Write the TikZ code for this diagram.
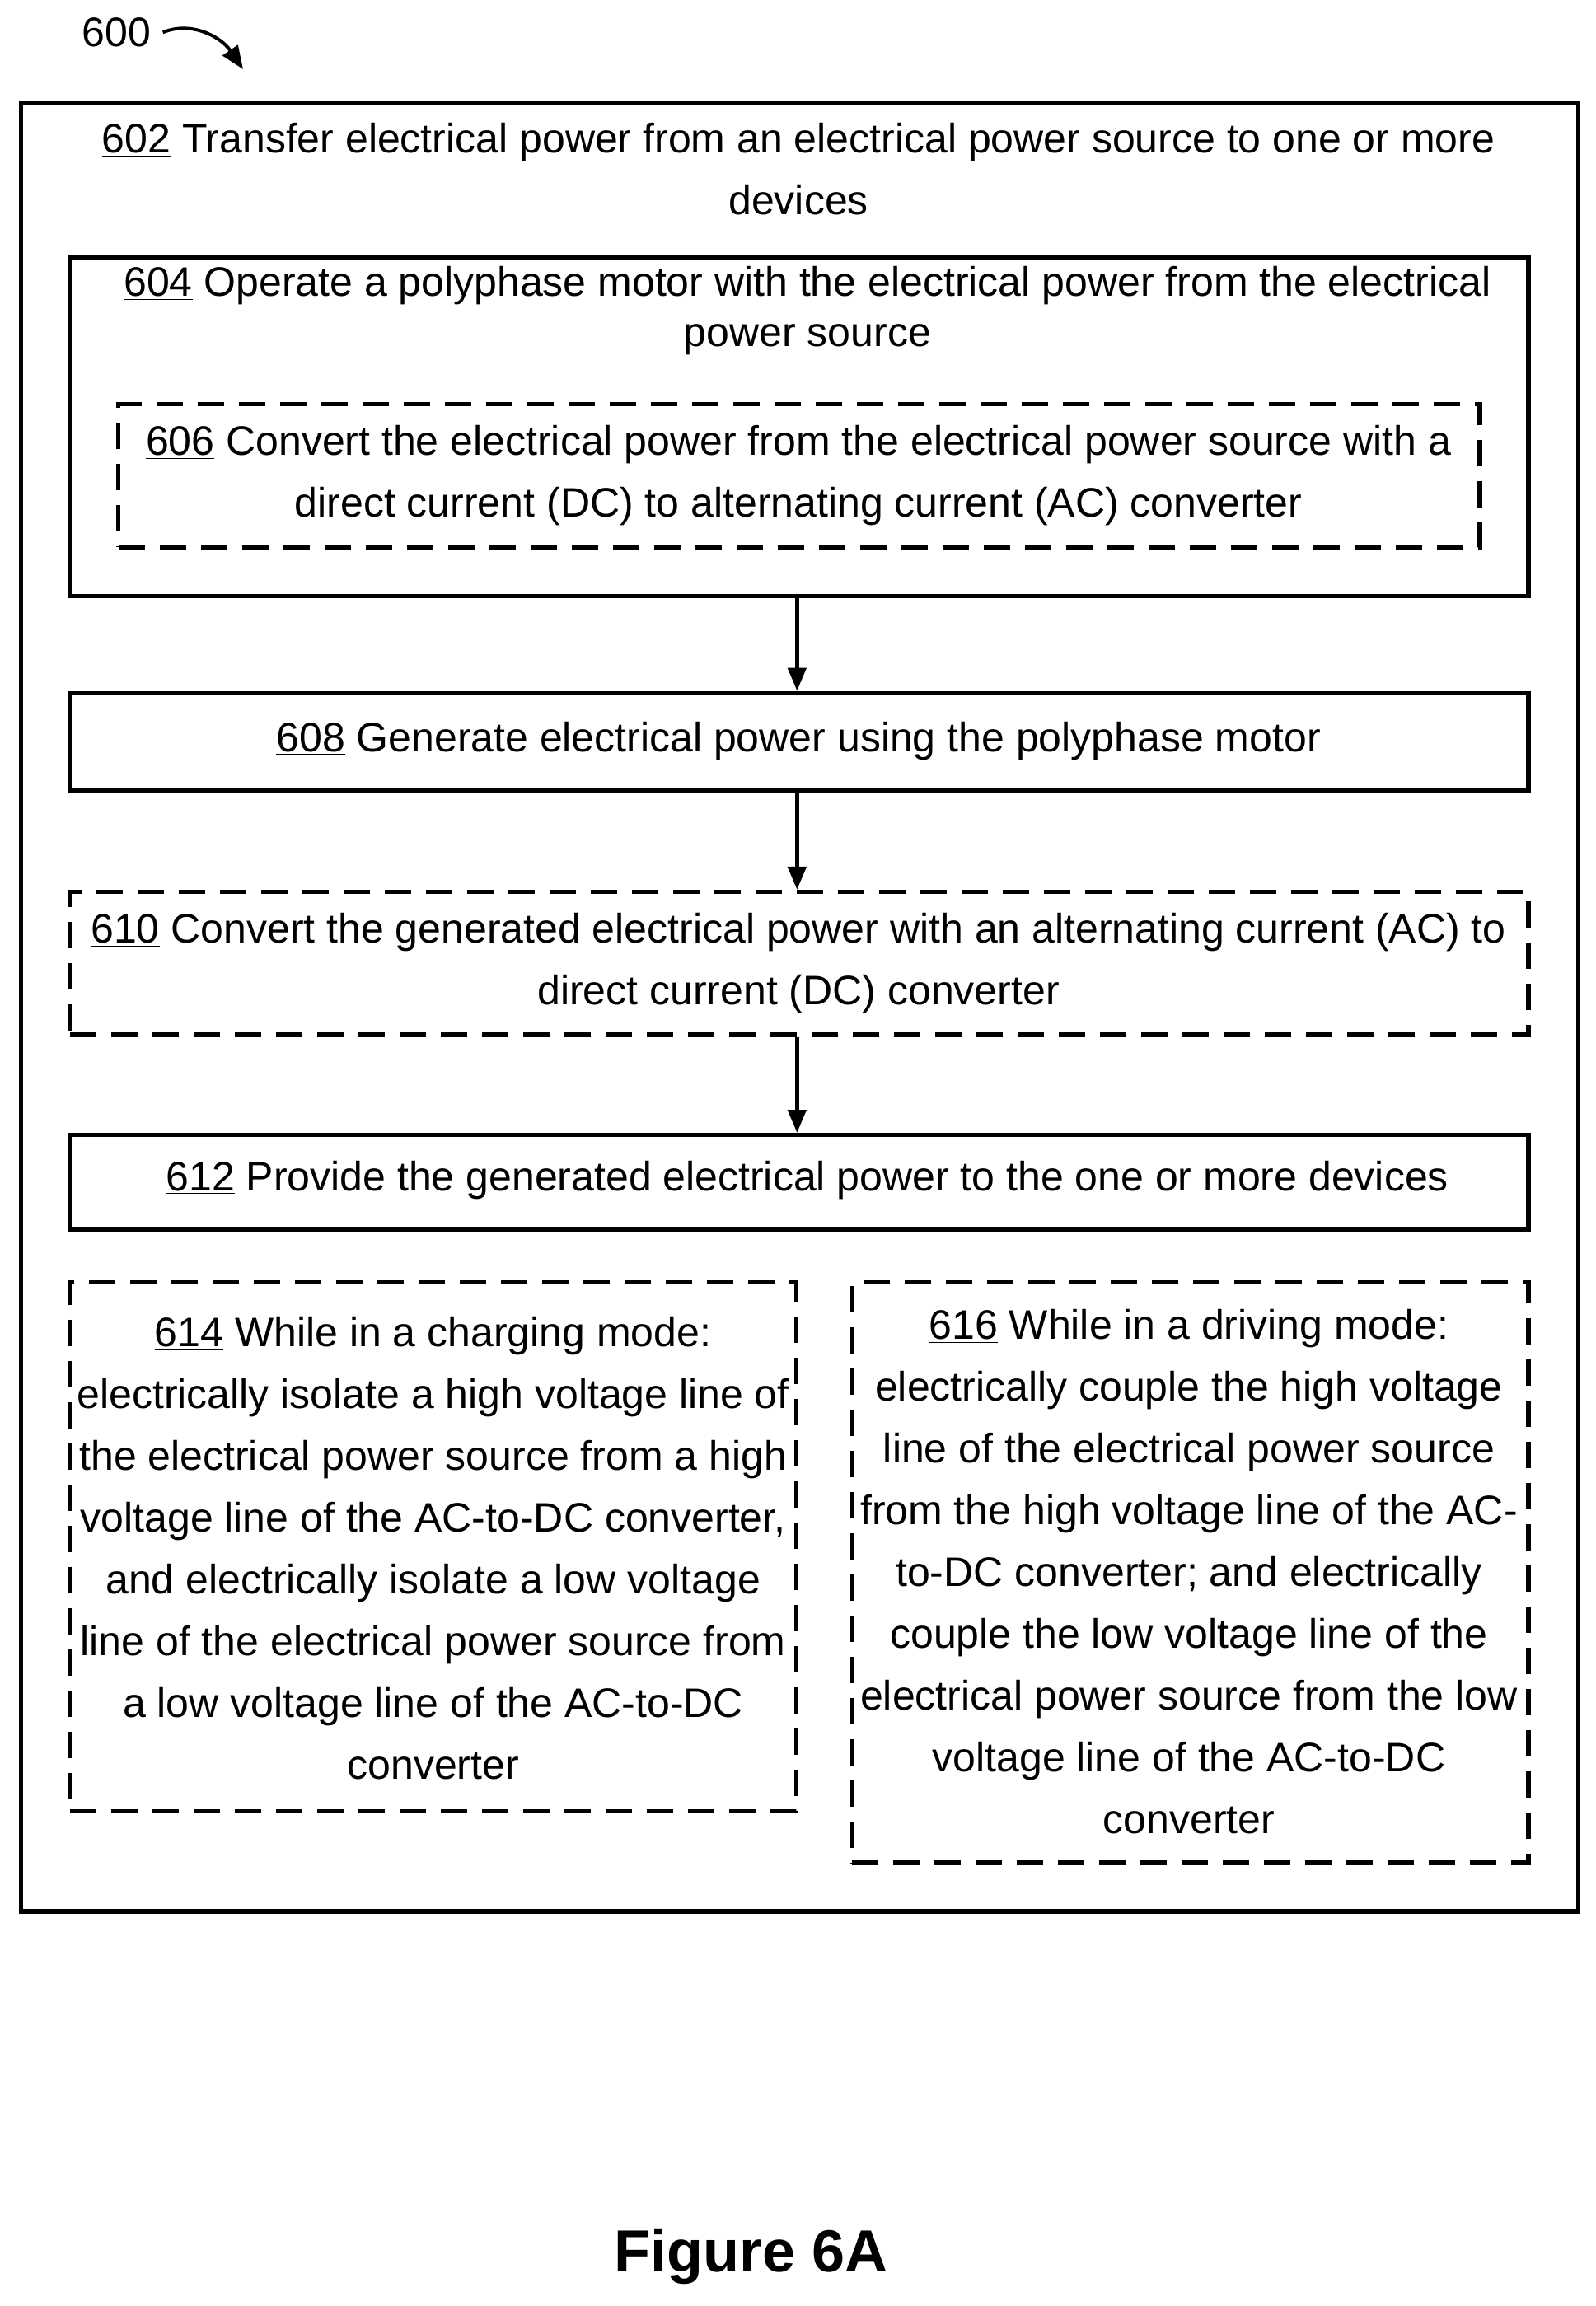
\documentclass[tikz,border=0pt]{standalone}
\usepackage{fontspec}
\setmainfont{Liberation Sans}
\usetikzlibrary{arrows.meta}
\begin{document}
\begin{tikzpicture}[x=0.894pt,y=-0.894pt,
  box/.style={draw,line width=2.6pt,inner sep=0,anchor=north west},
  dbox/.style={box,dash pattern=on 16pt off 9pt},
  txt/.style={align=center,font=\fontsize{25}{37.5}\selectfont,inner sep=0},
  arr/.style={-{Triangle[length=14pt,width=11pt]},line width=2.4pt}]
\useasboundingbox (0,0) rectangle (1083.3,1565.4);
\node[box,minimum width=1057*0.894pt,minimum height=1228*0.894pt] (outer) at (13,68) {};
\node[txt] (t602) at (542,115) {\underline{602} Transfer electrical power from an electrical power source to one or more\\devices};
\node[box,minimum width=990*0.894pt,minimum height=230*0.894pt] (b604) at (46,173) {};
\node[txt,font=\fontsize{25}{30.4}\selectfont] (t604) at (548,211) {\underline{604} Operate a polyphase motor with the electrical power from the electrical\\power source};
\node[dbox,minimum width=924*0.894pt,minimum height=97*0.894pt] (b606) at (79,273) {};
\node[txt] (t606) at (542,323) {\underline{606} Convert the electrical power from the electrical power source with a\\direct current (DC) to alternating current (AC) converter};
\node[box,minimum width=990*0.894pt,minimum height=66*0.894pt] (b608) at (46,469) {};
\node[txt] (t608) at (542,503) {\underline{608} Generate electrical power using the polyphase motor};
\node[dbox,minimum width=990*0.894pt,minimum height=97*0.894pt] (b610) at (46,604) {};
\node[txt] (t610) at (542,654) {\underline{610} Convert the generated electrical power with an alternating current (AC) to\\direct current (DC) converter};
\node[box,minimum width=990*0.894pt,minimum height=64*0.894pt] (b612) at (46,769) {};
\node[txt] (t612) at (548,801) {\underline{612} Provide the generated electrical power to the one or more devices};
\node[dbox,minimum width=493*0.894pt,minimum height=359*0.894pt] (b614) at (46,869) {};
\node[txt] (t614) at (294,1051) {\underline{614} While in a charging mode:\\electrically isolate a high voltage line of\\the electrical power source from a high\\voltage line of the AC-to-DC converter,\\and electrically isolate a low voltage\\line of the electrical power source from\\a low voltage line of the AC-to-DC\\converter};
\node[dbox,minimum width=459*0.894pt,minimum height=394*0.894pt] (b616) at (577,869) {};
\node[txt] (t616) at (807,1067) {\underline{616} While in a driving mode:\\electrically couple the high voltage\\line of the electrical power source\\from the high voltage line of the AC-\\to-DC converter; and electrically\\couple the low voltage line of the\\electrical power source from the low\\voltage line of the AC-to-DC\\converter};
\draw[arr] (b604.south -| 541,0) -- (b608.north -| 541,0);
\draw[arr] (b608.south -| 541,0) -- (b610.north -| 541,0);
\draw[arr] (b610.south -| 541,0) -- (b612.north -| 541,0);
\node[txt,font=\fontsize{25}{26}\selectfont] (l600) at (79,22) {600};
\coordinate (a600) at (165,47);
\draw[arr,line width=2pt] (l600.east)++(8,0) .. controls (130,14) and (150,25) .. (a600);
\node[txt,font=\bfseries\fontsize{36}{40}\selectfont] (fig) at (510,1532) {Figure 6A};
\end{tikzpicture}
\end{document}
